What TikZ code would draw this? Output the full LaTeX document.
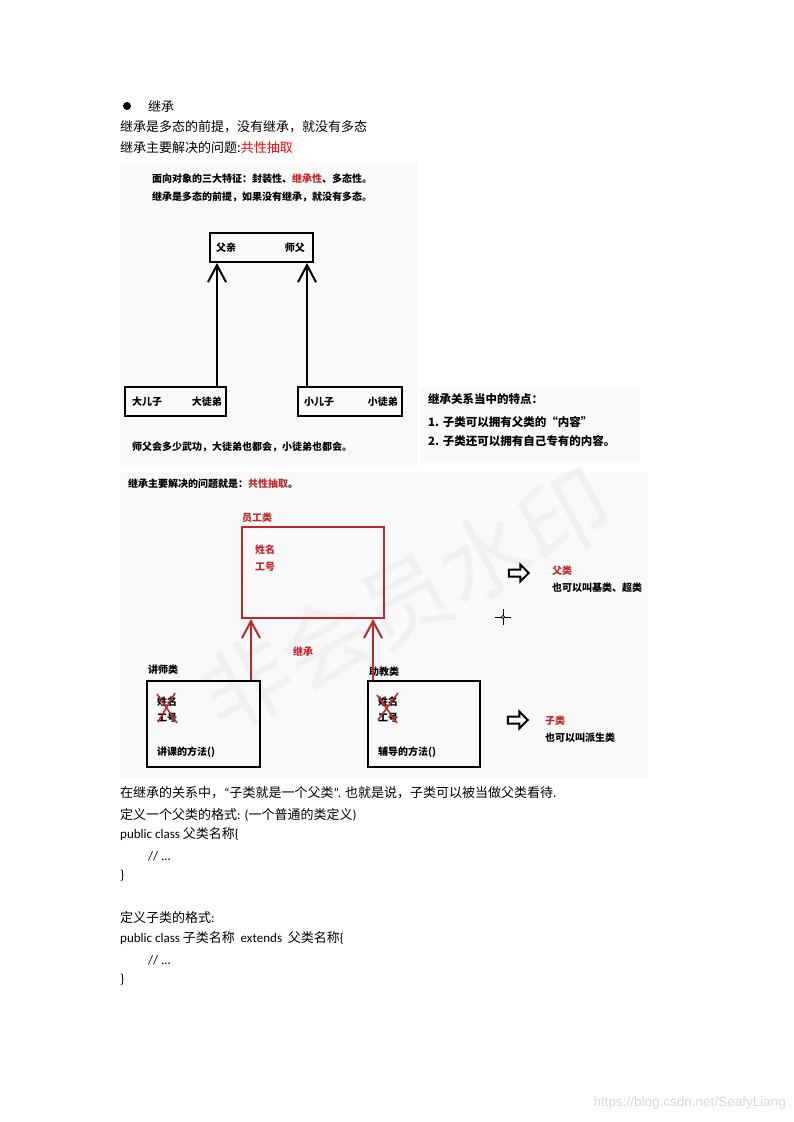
\documentclass[tikz,border=0pt]{standalone}
\usepackage{fontspec}
\newfontfamily\cjk{Noto Sans CJK SC}
\newfontfamily\latin{Carlito}
\newfontfamily\urlfont{Liberation Sans}
\usetikzlibrary{arrows.meta, positioning, shapes.arrows}
\definecolor{redline}{HTML}{C0282B}
\definecolor{shotbg}{HTML}{F9F9F9}

\begin{document}
\begin{tikzpicture}[
  x=1pt, y=-1pt,
  body/.style={anchor=west, inner sep=0pt, font=\cjk\fontsize{13}{16}\selectfont},
  shot/.style={anchor=west, inner sep=0pt, font=\cjk\bfseries\fontsize{10}{12}\selectfont},
  shotbig/.style={anchor=west, inner sep=0pt, font=\cjk\bfseries\fontsize{11.5}{14}\selectfont},
  box/.style={draw=black, line width=2pt, inner sep=0pt},
  redbox/.style={draw=redline, line width=2pt, inner sep=0pt},
  arrow/.style={-{Straight Barb[length=17pt, width=18pt]}, line width=2pt},
  redarrow/.style={arrow, draw=redline},
  hollow/.style={single arrow, draw=black, line width=2pt, inner sep=2.5pt,
    minimum height=20pt, single arrow head extend=5pt},
  cross/.style={draw=redline, line width=1.6pt}
]

\useasboundingbox (0,0) rectangle (793,1122);
\fill[white] (0,0) rectangle (793,1122);

\fill[shotbg] (120,163) rectangle (418,465);
\fill[shotbg] (420,388) rectangle (640,463);
\fill[shotbg] (120,472) rectangle (648,778);

\node[rotate=28, text=gray!11, font=\cjk\fontsize{90}{92}\selectfont] (mark) at (405,600) {非会员水印};

\node[circle, fill=black, inner sep=0pt, minimum size=8pt] (dot) at (127,106) {};
\node[body] (t1) at (148,106) {继承};
\node[body] (t2) at (120,127) {继承是多态的前提，没有继承，就没有多态};
\node[body] (t3) at (120,148) {继承主要解决的问题:{\color{red}共性抽取}};

\node[shot] (feat) at (152,179) {面向对象的三大特征：封装性、{\color{redline}继承性}、多态性。};
\node[shot] (pre) at (152,197) {继承是多态的前提，如果没有继承，就没有多态。};

\node[box, minimum width=103pt, minimum height=29pt] (fa) at (261.5,247.5) {};
\node[shot, right=7pt of fa.west] (faA) {父亲};
\node[shot, left=9pt of fa.east] (faB) {师父};
\node[box, minimum width=101pt, minimum height=29pt] (big) at (175.5,401.5) {};
\node[shot, right=8pt of big.west] (bigA) {大儿子};
\node[shot, left=5pt of big.east] (bigB) {大徒弟};
\node[box, minimum width=104pt, minimum height=29pt] (small) at (350,401.5) {};
\node[shot, right=7pt of small.west] (smallA) {小儿子};
\node[shot, left=5pt of small.east] (smallB) {小徒弟};
\node[shot] (skill) at (132,447) {师父会多少武功，大徒弟也都会，小徒弟也都会。};

\draw[arrow] ([xshift=-10pt]big.north east) -- ([xshift=-10pt]big.north east |- fa.south);
\draw[arrow] ([xshift=10pt]small.north west) -- ([xshift=10pt]small.north west |- fa.south);

\node[shotbig] (rel) at (428,399) {继承关系当中的特点：};
\node[shotbig] (rel1) at (428,422) {1. 子类可以拥有父类的“内容”};
\node[shotbig] (rel2) at (428,441) {2. 子类还可以拥有自己专有的内容。};

\node[shot] (aim) at (128,484) {继承主要解决的问题就是：{\color{redline}共性抽取}。};
\node[shot, text=redline] (empT) at (242,518) {员工类};
\node[redbox, minimum width=142pt, minimum height=91pt] (emp) at (313,572.5) {};
\node[shot, text=redline] (empA) at (255,550) {姓名};
\node[shot, text=redline] (empB) at (255,567) {工号};
\node[shot, text=redline, anchor=center] (inh) at (303,652) {继承};

\node[shot] (lecT) at (148,670) {讲师类};
\node[box, minimum width=113pt, minimum height=86pt] (lec) at (203.5,724) {};
\node[shot] (lecA) at (157,702) {姓名};
\node[shot] (lecB) at (157,718) {工号};
\node[shot] (lecM) at (157,752) {讲课的方法()};
\draw[cross] (157,694) -- (177,723);
\draw[cross] (175,693) -- (158,722);

\node[shot] (asiT) at (369,672) {助教类};
\node[box, minimum width=112pt, minimum height=86pt] (asi) at (424,724) {};
\node[shot] (asiA) at (378,702) {姓名};
\node[shot] (asiB) at (378,718) {工号};
\node[shot] (asiM) at (378,752) {辅导的方法()};
\draw[cross] (377,695) -- (397,723);
\draw[cross] (398,693) -- (378,720);

\draw[redarrow] ([xshift=-10pt]lec.north east) -- ([xshift=-10pt]lec.north east |- emp.south);
\draw[redarrow] ([xshift=6pt]asi.north west) -- ([xshift=6pt]asi.north west |- emp.south);

\node[hollow] (up) at (517,573) {};
\node[shot, text=redline] (supT) at (552,571) {父类};
\node[shot] (supD) at (552,588) {也可以叫基类、超类};
\node[hollow] (down) at (516,720) {};
\node[shot, text=redline] (subT) at (545,721) {子类};
\node[shot] (subD) at (545,738) {也可以叫派生类};

\draw[line width=0.8pt] (495,617) -- (511,617) (503,609) -- (503,625);
\draw[line width=0.6pt, fill=white] (503,617) circle (1.6pt);

\node[body] (s1) at (120,793) {在继承的关系中，{\latin “}子类就是一个父类{\latin ”.} 也就是说，子类可以被当做父类看待{\latin .}};
\node[body] (s2) at (120,815) {定义一个父类的格式{\latin : (}一个普通的类定义{\latin )}};
\node[body] (s3) at (120,834) {{\latin public class} 父类名称{\latin\{}};
\node[body] (s4) at (148,856) {{\latin // ...}};
\node[body] (s5) at (120,876) {{\latin\}}};
\node[body] (s6) at (120,918) {定义子类的格式{\latin :}};
\node[body] (s7) at (120,938) {{\latin public class} 子类名称 \ {\latin extends} \ 父类名称{\latin\{}};
\node[body] (s8) at (148,960) {{\latin // ...}};
\node[body] (s9) at (120,980) {{\latin\}}};

\node[anchor=east, inner sep=0pt, text=gray!30, font=\urlfont\fontsize{13.5}{15}\selectfont] (url) at (786,1103) {https://blog.csdn.net/SeafyLiang};

\end{tikzpicture}
\end{document}
